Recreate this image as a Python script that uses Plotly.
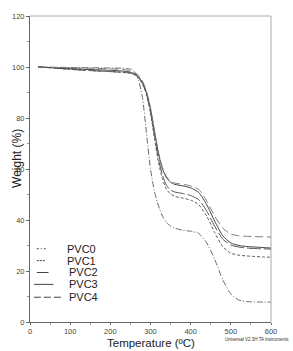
import plotly.graph_objects as go

temps = [20, 50, 100, 150, 200, 230, 250, 260, 270, 280, 290, 300, 310, 320, 330,
         340, 350, 360, 380, 400, 420, 440, 460, 480, 500, 520, 540, 560, 580, 600]

pvc0 = [100, 99.9, 99.8, 99.7, 99.6, 99.5, 99.2, 98.2, 95.0, 88.0, 74.0, 60.0, 51.0, 45.5, 41.5,
        39.0, 37.6, 36.8, 36.0, 35.6, 34.8, 31.0, 24.5, 16.5, 11.0, 8.6, 8.0, 7.9, 7.8, 7.8]
pvc1 = [100, 99.7, 99.1, 98.6, 98.2, 97.9, 97.6, 97.0, 95.8, 93.5, 89.3, 82.0, 72.0, 62.5, 56.0,
        52.0, 50.2, 49.3, 48.6, 47.8, 46.0, 41.5, 35.0, 29.5, 27.0, 26.2, 25.9, 25.7, 25.5, 25.4]
pvc2 = [100, 99.7, 99.1, 98.6, 98.2, 97.9, 97.6, 97.0, 95.8, 93.5, 89.5, 82.5, 73.0, 64.0, 57.5,
        53.5, 51.8, 51.0, 50.4, 49.6, 48.0, 43.5, 37.5, 32.5, 30.2, 29.4, 29.0, 28.8, 28.7, 28.6]
pvc3 = [100, 99.8, 99.4, 99.0, 98.7, 98.4, 98.0, 97.4, 96.2, 94.0, 90.0, 83.5, 74.5, 66.0, 60.0,
        56.5, 54.8, 54.0, 53.4, 52.6, 50.8, 46.0, 39.5, 33.8, 31.0, 30.0, 29.6, 29.4, 29.2, 29.0]
pvc4 = [100, 99.9, 99.7, 99.5, 99.3, 99.0, 98.6, 98.0, 96.8, 94.5, 90.5, 84.0, 75.0, 66.5, 60.5,
        57.0, 55.2, 54.5, 54.0, 53.4, 52.0, 47.5, 41.5, 36.8, 34.5, 33.8, 33.6, 33.5, 33.4, 33.3]

names = ["PVC0", "PVC1", "PVC2", "PVC3", "PVC4"]
series = [pvc0, pvc1, pvc2, pvc3, pvc4]
dashes = ["6px,2px,1px,2px", "3px,2px", "14px,3px", "solid", "8px,4px"]
colors = ["#6a6a6a", "#5a5a5a", "#555555", "#444444", "#7a7a7a"]

W, H = 293, 351
ML, MR, MT, MB = 24, 22, 13, 29

fig = go.Figure()
for n, s, d, c in zip(names, series, dashes, colors):
    fig.add_trace(go.Scatter(x=temps, y=s, mode="lines", name=n,
                             line=dict(color=c, width=1, dash=d, shape="spline", smoothing=0.6),
                             showlegend=False))

tickfont = dict(family="Liberation Sans Narrow, Arial Narrow, Liberation Sans, sans-serif", size=7.5, color="#444")

fig.update_xaxes(range=[0, 600], tickvals=[0, 100, 200, 300, 400, 500, 600],
                 ticks="outside", ticklen=2, tickcolor="#666", showline=True, linecolor="#666",
                 linewidth=1, showgrid=False, zeroline=False, tickfont=tickfont,
                 minor=dict(dtick=50, ticks="outside", ticklen=2, tickcolor="#999"))
fig.update_yaxes(range=[0, 120], tickvals=[0, 20, 40, 60, 80, 100, 120],
                 ticks="outside", ticklen=3, tickcolor="#666", showline=True, linecolor="#666",
                 linewidth=1, showgrid=False, zeroline=False, tickfont=tickfont,
                 minor=dict(dtick=10, ticks="outside", ticklen=2, tickcolor="#999"))

# top and right frame lines (grey)
fig.add_shape(type="line", xref="paper", yref="paper", x0=0, x1=1, y0=1, y1=1,
              line=dict(color="#aaa", width=1))
fig.add_shape(type="line", xref="paper", yref="paper", x0=1, x1=1, y0=0, y1=1,
              line=dict(color="#aaa", width=1))

pw, ph = W - ML - MR, H - MT - MB
def px(x):
    return (x - ML) / pw
def py(y):
    return (H - MB - y) / ph

# manual legend
rows_y = [248, 260, 272, 284, 297]
sample_x = [(31, 40), (31, 40), (31, 43), (28, 48), (28, 57)]
text_x = [60, 60, 62, 62, 62]
leg_dash = ["2px,2px,1px,2px", "2px,1px", "solid", "solid", "7px,3px"]
for n, ry, (sx0, sx1), tx, ld in zip(names, rows_y, sample_x, text_x, leg_dash):
    fig.add_shape(type="line", xref="paper", yref="paper", x0=px(sx0), x1=px(sx1),
                  y0=py(ry), y1=py(ry), line=dict(color="#444", width=1, dash=ld))
    fig.add_annotation(text=n, xref="paper", yref="paper", x=px(tx), y=py(ry),
                       xanchor="left", yanchor="middle", showarrow=False,
                       font=dict(family="Liberation Sans, Arial, sans-serif", size=11, color="#222"))

# axis titles
fig.add_annotation(text="Weight (%)", xref="paper", yref="paper", x=px(10), y=py(157),
                   textangle=-90, xanchor="center", yanchor="middle", showarrow=False,
                   font=dict(family="Liberation Sans, Arial, sans-serif", size=12, color="#222"))
fig.add_annotation(text="Temperature (ºC)", xref="paper", yref="paper", x=px(148), y=py(351),
                   xanchor="center", yanchor="bottom", showarrow=False,
                   font=dict(family="Liberation Sans, Arial, sans-serif", size=11.5, color="#222"))
fig.add_annotation(text="Universal V2.3H TA Instruments", xref="paper", yref="paper",
                   x=px(292), y=py(340), xanchor="right", yanchor="middle", showarrow=False,
                   font=dict(family="Liberation Sans Narrow, Arial Narrow, sans-serif", size=4.5, color="#333"))

fig.update_layout(width=W, height=H, margin=dict(l=ML, r=MR, t=MT, b=MB),
                  paper_bgcolor="white", plot_bgcolor="white", showlegend=False)

fig.write_html("out.html")
